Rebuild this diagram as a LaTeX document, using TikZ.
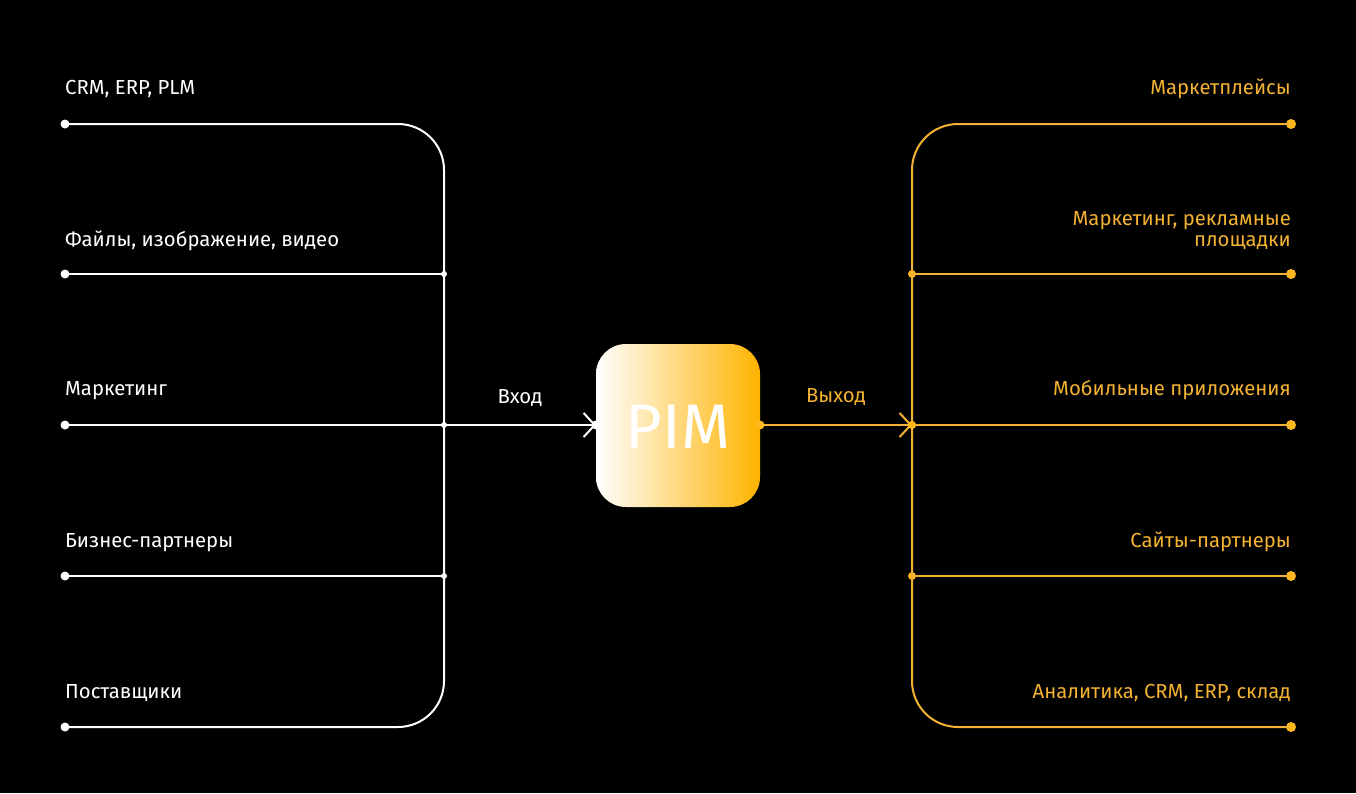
\documentclass[tikz,border=0pt]{standalone}
\usepackage{fontspec}
\setmainfont{Fira Sans}
\usetikzlibrary{arrows.meta}
\definecolor{org}{HTML}{F3B233}
\definecolor{orgdot}{HTML}{FFB81C}
\definecolor{orgfill}{HTML}{FFB300}
\tikzset{
  x=1pt,y=-1pt,
  wline/.style={draw=white,line width=2pt},
  oline/.style={draw=org,line width=2pt},
  wdot/.style={circle,fill=white,inner sep=0pt,minimum size=9pt},
  odot/.style={circle,fill=orgdot,inner sep=0pt,minimum size=10pt},
  wjn/.style={circle,fill=white,inner sep=0pt,minimum size=6pt},
  ojn/.style={circle,fill=orgdot,inner sep=0pt,minimum size=8pt},
  wlab/.style={text=white,font=\fontsize{20.3}{21}\selectfont,inner sep=0pt,anchor=base west},
  olab/.style={text=org,font=\fontsize{20.3}{21}\selectfont,inner sep=0pt,anchor=base east,align=right},
  chev/.style={-{Straight Barb[length=11pt,width=24pt,line width=2pt]}},
}
\begin{document}
\begin{tikzpicture}
\path[fill=black] (0,0) rectangle (1356,793);
\useasboundingbox (0,0) rectangle (1356,793);

% PIM box
\path[left color=white,right color=orgfill,rounded corners=30pt] (596,344) rectangle (760,507);
\node[text=white,font=\fontsize{63}{64}\selectfont,inner sep=0pt] (pimtxt) at (678,427) {PIM};
\coordinate (pimW) at (596,425);
\coordinate (pimE) at (760,425);

% left dots
\node[wdot] (l1) at (65,124) {};
\node[wdot] (l2) at (65,274) {};
\node[wdot] (l3) at (65,425) {};
\node[wdot] (l4) at (65,576) {};
\node[wdot] (l5) at (65,727) {};
\coordinate (ctl) at (444,124);
\coordinate (cbl) at (444,727);
\node[wjn] (j2) at (444,274) {};
\node[wjn] (j3) at (444,425) {};
\node[wjn] (j4) at (444,576) {};

\draw[wline,rounded corners=46pt] (l1.center) -- (ctl) -- (cbl) -- (l5.center);
\draw[wline] (l2.center) -- (j2.center);
\draw[wline] (l3.center) -- (j3.center);
\draw[wline] (l4.center) -- (j4.center);
\draw[wline,chev] (j3.center) -- (pimW);
\node[wjn,minimum size=9pt] (pinL) at (pimW) {};

% right
\node[odot] (r1) at (1291,124) {};
\node[odot] (r2) at (1291,274) {};
\node[odot] (r3) at (1291,425) {};
\node[odot] (r4) at (1291,576) {};
\node[odot] (r5) at (1291,727) {};
\coordinate (ctr) at (912,124);
\coordinate (cbr) at (912,727);
\node[ojn] (k2) at (912,274) {};
\node[ojn] (k3) at (912,425) {};
\node[ojn] (k4) at (912,576) {};

\draw[oline,rounded corners=46pt] (r1.center) -- (ctr) -- (cbr) -- (r5.center);
\draw[oline] (k2.center) -- (r2.center);
\draw[oline] (k3.center) -- (r3.center);
\draw[oline] (k4.center) -- (r4.center);
\draw[oline,chev] (pimE) -- (k3.center);
\node[ojn,minimum size=9pt] (pinR) at (pimE) {};
\node[ojn] at (k3) {};

% labels
\node[wlab] (t1) at (65,94) {CRM, ERP, PLM};
\node[wlab] (t2) at (65,246) {Файлы, изображение, видео};
\node[wlab] (t3) at (65,395) {Маркетинг};
\node[wlab] (t4) at (65,547) {Бизнес-партнеры};
\node[wlab] (t5) at (65,698) {Поставщики};
\node[wlab,anchor=base] (tin) at (520,403) {Вход};
\node[olab,anchor=base] (tout) at (836,402) {Выход};

\node[olab] (u1) at (1291,94) {Маркетплейсы};
\node[olab] (u2) at (1291,246) {Маркетинг, рекламные\\площадки};
\node[olab] (u3) at (1291,395) {Мобильные приложения};
\node[olab] (u4) at (1291,547) {Сайты-партнеры};
\node[olab] (u5) at (1291,698) {Аналитика, CRM, ERP, склад};
\end{tikzpicture}
\end{document}
